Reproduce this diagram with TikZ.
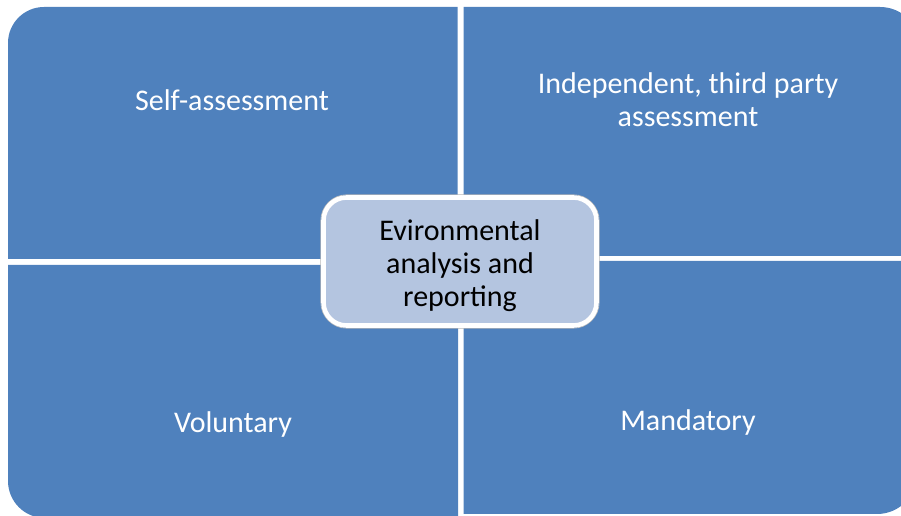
\documentclass[tikz,border=0pt]{standalone}
\usepackage{fontspec}
\setmainfont{Carlito}
\begin{document}
\begin{tikzpicture}[x=1pt,y=1pt,
  quad/.style={fill=quadblue},
  quadtext/.style={text=white,align=center,font=\fontsize{30}{33}\selectfont},
  hubbox/.style={draw=white,line width=4.6pt,fill=hubfill,rounded corners=23pt},
  hubtext/.style={text=black,align=center,font=\fontsize{30}{33}\selectfont}]
\definecolor{quadblue}{RGB}{79,129,189}
\definecolor{hubfill}{RGB}{180,197,224}
\useasboundingbox (0,0) rectangle (901,516);
% four quadrants, each rounded only at its outer corner
\fill[quad] (8,257) -- (8,473) arc[start angle=180,end angle=90,radius=36] -- (457.5,509) -- (457.5,257) -- cycle;
\fill[quad] (463.5,260) -- (463.5,509) -- (880,509) arc[start angle=90,end angle=0,radius=40] -- (920,260) -- cycle;
\fill[quad] (8,251) -- (8,35) arc[start angle=180,end angle=270,radius=37] -- (458,-2) -- (458,251) -- cycle;
\fill[quad] (463.5,255) -- (463.5,2) -- (877,2) arc[start angle=270,end angle=360,radius=40] -- (917,255) -- cycle;
% central hub
\draw[gray!55,line width=0.8pt,rounded corners=26pt] (320.8,321.2) rectangle (599.2,187.8);
\node[hubbox,minimum width=273pt,minimum height=128pt,inner sep=0pt] (hub) at (460,254.5) {};
% labels
\node[quadtext] (self) at (232,416) {Self-assessment};
\node[quadtext] (third) at (688,416) {Independent, third party\\assessment};
\node[quadtext] (vol) at (233,91) {Voluntary};
\node[quadtext] (mand) at (688,93) {Mandatory};
\node[hubtext] (hubtxt) at (460,250.5) {Evironmental\\analysis and\\reporting};
\end{tikzpicture}
\end{document}
